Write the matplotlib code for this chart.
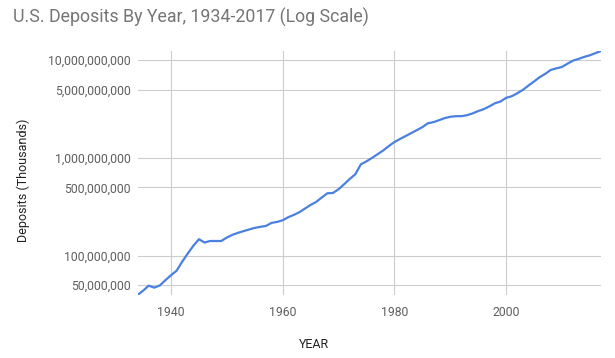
import matplotlib
matplotlib.use("Agg")
import matplotlib.pyplot as plt
from matplotlib.ticker import FixedLocator, FuncFormatter, NullLocator

plt.rcParams['font.family'] = ['Roboto', 'DejaVu Sans']

# deposits in thousands of dollars
years = list(range(1934, 2018))
deposits = [
    39.5e6, 43.7e6, 49.2e6, 47.0e6, 49.5e6, 56.0e6, 63.0e6, 70.0e6, 86.5e6, 105e6,   # 1934-1943
    126e6, 147e6, 136e6, 141e6, 141e6, 141e6, 153e6, 163e6, 171e6, 178e6,            # 1944-1953
    185e6, 192e6, 197e6, 201e6, 216e6, 221e6, 230e6, 247e6, 261e6, 278e6,            # 1954-1963
    303e6, 330e6, 354e6, 393e6, 434e6, 437e6, 477e6, 537e6, 608e6, 679e6,            # 1964-1973
    859e6, 921e6, 1.00e9, 1.09e9, 1.19e9, 1.32e9, 1.45e9, 1.56e9, 1.67e9, 1.79e9,    # 1974-1983
    1.92e9, 2.06e9, 2.26e9, 2.32e9, 2.43e9, 2.55e9, 2.63e9, 2.67e9, 2.67e9, 2.73e9,  # 1984-1993
    2.85e9, 3.01e9, 3.15e9, 3.36e9, 3.62e9, 3.77e9, 4.11e9, 4.27e9, 4.58e9, 4.96e9,  # 1994-2003
    5.49e9, 6.04e9, 6.68e9, 7.23e9, 7.94e9, 8.24e9, 8.51e9, 9.2e9, 9.89e9, 10.3e9,   # 2004-2013
    10.8e9, 11.2e9, 11.8e9, 12.4e9,                                                   # 2014-2017
]

y_ticks = [50e6, 100e6, 500e6, 1e9, 5e9, 10e9]
x_ticks = [1940, 1960, 1980, 2000]

fig = plt.figure(figsize=(6.15, 3.58), dpi=100)
ax = fig.add_axes([137.5 / 615, 1 - 295 / 358, (601 - 137.5) / 615, (295 - 51) / 358])

ax.plot(years, deposits, color='#4a80e0', linewidth=1.6, solid_joinstyle='round', zorder=3)

ax.set_yscale('log')
ax.set_xlim(years[0], years[-1])
ax.set_ylim(min(deposits), max(deposits))

ax.yaxis.set_major_locator(FixedLocator(y_ticks))
ax.yaxis.set_minor_locator(NullLocator())
ax.yaxis.set_major_formatter(FuncFormatter(lambda v, p: f"{v:,.0f}"))
ax.xaxis.set_major_locator(FixedLocator(x_ticks))

ax.grid(True, color='#cccccc', linewidth=0.8)
ax.set_axisbelow(True)
for s in ax.spines.values():
    s.set_visible(False)
ax.tick_params(length=0, labelsize=8.8, colors='#5f5f5f')
ax.tick_params(axis='y', pad=5)
ax.tick_params(axis='x', pad=8)

fig.text(13 / 615, 1 - 17 / 358, "U.S. Deposits By Year, 1934-2017 (Log Scale)",
         fontsize=12.8, color='#757575', va='center', ha='left')
fig.text(314 / 615, 1 - 345 / 358, "YEAR", fontsize=9, color='#222222', ha='center', va='center')
fig.text(23 / 615, 1 - 180 / 358, "Deposits (Thousands)", fontsize=9, color='#222222',
         rotation=90, ha='center', va='center')

fig.savefig('out.png', dpi=100)
